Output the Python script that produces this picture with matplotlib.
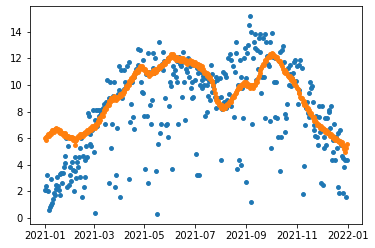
import numpy as np
import pandas as pd
import matplotlib
matplotlib.use("Agg")
import matplotlib.pyplot as plt
from matplotlib.ticker import MultipleLocator

# daily values 2021, one row per month
raw = [
    # jan
    2.1, 2.4, 2.1, 3.2, 2.0, 0.6, 0.8, 2.9, 1.0, 1.1, 1.4, 1.9, 1.7, 2.5, 2.2, 3.1,
    2.4, 2.1, 3.3, 1.7, 3.4, 2.6, 3.4, 3.8, 4.7, 4.1, 6.0, 2.3, 5.4, 2.5, 3.2,
    # feb
    3.8, 2.8, 4.2, 3.6, 2.0, 4.6, 3.5, 3.0, 4.2, 3.8, 4.6, 5.3, 3.1, 6.0, 1.6, 4.7,
    2.3, 3.1, 4.4, 5.4, 4.6, 7.9, 7.7, 6.3, 5.6, 5.4, 6.6, 8.1,
    # mar
    5.0, 0.4, 7.4, 8.1, 6.9, 8.1, 7.7, 7.3, 8.1, 7.9, 8.0, 8.3, 8.6, 8.2, 7.1, 8.7,
    10.4, 8.6, 9.0, 2.6, 10.2, 5.3, 7.1, 9.2, 10.2, 9.0, 2.3, 3.2, 6.8, 9.3, 9.6,
    # apr
    11.4, 1.6, 11.1, 9.0, 9.5, 11.1, 9.7, 10.2, 9.9, 11.4, 10.1, 11.7, 2.9, 7.2, 8.6,
    10.2, 7.6, 6.7, 10.6, 10.9, 11.2, 11.0, 11.5, 12.7, 11.3, 12.6, 10.2, 9.5, 11.9, 9.4,
    # may
    7.7, 3.7, 10.8, 7.7, 2.6, 12.4, 11.0, 8.5, 7.1, 8.9, 11.3, 12.4, 10.9, 12.0, 3.5, 0.3,
    11.2, 5.6, 13.2, 6.4, 7.1, 11.6, 11.1, 12.5, 11.8, 9.0, 7.0, 7.1, 12.0, 6.1, 8.4,
    # jun
    10.2, 9.9, 3.7, 11.4, 10.8, 12.2, 11.1, 10.6, 11.8, 10.2, 7.1, 12.1, 11.6, 11.4, 9.1,
    11.7, 12.5, 10.2, 7.4, 11.2, 11.9, 11.0, 12.0, 10.6, 11.4, 9.8, 9.0, 10.2, 9.1, 11.5,
    # jul
    10.4, 4.8, 11.3, 3.2, 10.9, 3.2, 10.0, 11.0, 9.8, 10.4, 10.7, 10.0, 7.7, 10.5, 8.0, 10.0,
    9.2, 10.3, 8.9, 11.5, 9.5, 10.8, 9.9, 10.2, 9.1, 10.6, 8.3, 10.4, 9.0, 8.6, 10.5,
    # aug
    9.1, 4.4, 8.2, 11.0, 8.7, 10.8, 8.3, 10.6, 8.9, 12.0, 9.3, 12.3, 8.4, 11.9, 9.0, 11.4,
    7.6, 11.0, 13.2, 12.4, 3.7, 10.0, 4.4, 11.9, 4.0, 10.6, 9.8, 7.5, 12.0, 12.8, 10.5,
    # sep
    2.7, 12.4, 13.0, 14.5, 15.2, 14.0, 1.2, 7.1, 12.0, 13.2, 13.8, 12.8, 10.4, 12.6, 11.2,
    13.5, 13.8, 12.5, 9.4, 10.6, 13.5, 10.6, 7.5, 13.8, 13.2, 12.2, 11.6, 11.4, 7.3, 13.2,
    # oct
    5.3, 13.9, 12.1, 10.2, 7.6, 12.0, 10.2, 7.5, 6.1, 11.8, 3.5, 12.5, 6.1, 12.6, 12.9, 11.7,
    7.8, 6.5, 7.5, 8.6, 11.3, 10.0, 10.8, 11.5, 9.9, 10.5, 10.9, 11.7, 10.1, 11.9, 10.3,
    # nov
    11.4, 8.6, 11.5, 9.6, 11.9, 9.0, 11.3, 1.8, 3.9, 8.6, 7.0, 8.3, 8.7, 7.9, 9.4,
    7.6, 10.2, 9.8, 9.9, 8.7, 6.6, 7.0, 6.2, 7.7, 6.1, 5.5, 7.6, 8.4, 6.5, 2.6,
    # dec
    8.4, 2.5, 6.1, 5.3, 7.5, 5.5, 7.5, 6.4, 8.0, 8.1, 6.8, 8.4, 4.4, 5.9, 5.0, 7.1,
    4.4, 6.1, 5.3, 2.3, 6.4, 1.9, 6.6, 5.5, 4.7, 1.9, 4.5, 3.8, 4.4, 1.6, 4.4,
]

smooth = [
    # jan
    6.0, 6.1, 5.9, 6.2, 6.3, 6.2, 6.4, 6.5, 6.3, 6.6, 6.6, 6.5, 6.7, 6.6, 6.8, 6.6,
    6.7, 6.5, 6.6, 6.4, 6.5, 6.3, 6.4, 6.2, 6.3, 6.4, 6.1, 6.2, 6.2, 6.0, 6.1,
    # feb
    6.0, 6.1, 6.1, 5.9, 6.0, 5.8, 5.5, 5.9, 6.0, 6.2, 6.1, 6.3, 6.1, 6.2, 6.3, 6.2,
    6.4, 6.3, 6.5, 6.4, 6.6, 6.5, 6.6, 6.8, 6.7, 6.6, 6.9, 6.8,
    # mar
    6.9, 7.0, 6.8, 7.1, 7.0, 7.3, 7.2, 7.5, 7.4, 7.7, 7.8, 7.7, 8.0, 8.1, 8.3, 8.2,
    8.4, 8.6, 8.5, 8.8, 8.7, 9.0, 9.0, 8.9, 9.2, 9.0, 9.1, 8.9, 9.1, 9.0, 9.2,
    # apr
    9.1, 9.3, 9.2, 9.4, 9.3, 9.6, 9.5, 9.7, 9.9, 9.8, 10.1, 10.0, 10.3, 10.2, 10.5,
    10.4, 10.7, 10.6, 10.8, 11.0, 10.9, 11.1, 11.0, 11.2, 11.1, 11.4, 11.3, 11.4, 11.2, 11.3,
    # may
    11.1, 11.2, 10.9, 11.0, 10.8, 11.0, 10.7, 10.9, 10.8, 11.0, 10.9, 11.1, 10.9, 11.2, 11.0,
    11.1, 11.3, 11.2, 11.4, 11.3, 11.5, 11.4, 11.6, 11.5, 11.7, 11.6, 11.8, 11.9, 11.8, 12.0, 12.1,
    # jun
    12.0, 12.3, 12.2, 12.1, 12.3, 12.0, 12.1, 11.9, 12.0, 12.1, 11.9, 12.0, 11.8, 12.0, 11.9,
    11.8, 12.0, 11.9, 11.7, 11.9, 11.8, 11.6, 11.8, 11.7, 11.9, 11.7, 11.6, 11.8, 11.7, 11.5,
    # jul
    11.7, 11.5, 11.6, 11.4, 11.6, 11.3, 11.5, 11.2, 11.4, 11.1, 11.2, 10.9, 11.0, 10.8, 10.9,
    10.7, 10.8, 10.5, 10.6, 10.4, 10.2, 10.3, 10.0, 9.7, 9.4, 9.1, 8.9, 8.7, 8.8, 8.5, 8.6,
    # aug
    8.4, 8.3, 8.5, 8.2, 8.4, 8.3, 8.5, 8.4, 8.6, 8.5, 8.7, 8.8, 8.7, 8.9, 9.0, 9.2,
    9.1, 9.3, 9.5, 9.4, 9.6, 9.8, 9.9, 9.8, 10.0, 9.9, 10.1, 10.0, 10.2, 10.1, 10.0,
    # sep
    10.2, 9.9, 10.1, 10.0, 9.8, 10.0, 9.9, 10.0, 9.8, 10.0, 10.1, 10.0, 10.3, 10.2, 10.5,
    10.7, 10.9, 11.1, 11.3, 11.4, 11.6, 11.5, 11.8, 11.9, 11.8, 12.0, 12.1, 12.2, 12.1, 12.3,
    # oct
    12.2, 12.4, 12.3, 12.2, 12.1, 12.2, 12.0, 12.1, 11.9, 11.8, 11.7, 11.8, 11.6, 11.4, 11.2,
    11.0, 11.1, 10.9, 11.0, 10.8, 10.7, 10.6, 10.7, 10.5, 10.4, 10.5, 10.2, 10.3, 10.1, 10.0, 9.9,
    # nov
    9.8, 9.7, 9.4, 9.4, 9.1, 9.0, 9.0, 8.7, 8.8, 8.5, 8.6, 8.4, 8.2, 8.3, 8.0,
    8.1, 7.8, 7.9, 7.7, 7.5, 7.6, 7.3, 7.4, 7.2, 7.0, 7.1, 6.9, 7.0, 6.8, 6.9,
    # dec
    6.7, 6.8, 6.6, 6.7, 6.5, 6.6, 6.4, 6.5, 6.3, 6.4, 6.2, 6.3, 6.1, 6.2, 6.0, 6.1,
    5.9, 6.0, 5.9, 5.8, 5.9, 5.7, 5.8, 5.6, 5.7, 5.5, 5.4, 5.2, 5.0, 5.3, 5.6,
]

dates = pd.date_range("2021-01-01", periods=len(raw), freq="D")

# 72 dpi so default sizes come out as in the reference
fig = plt.figure(figsize=(375 / 72, 248 / 72), dpi=72)
ax = fig.add_axes([0.079, 0.097, 0.886, 0.879])
ax.scatter(dates, raw, s=15)
ax.scatter(dates, smooth, s=15)
ax.yaxis.set_major_locator(MultipleLocator(2))

fig.savefig("out.png", dpi=72)
